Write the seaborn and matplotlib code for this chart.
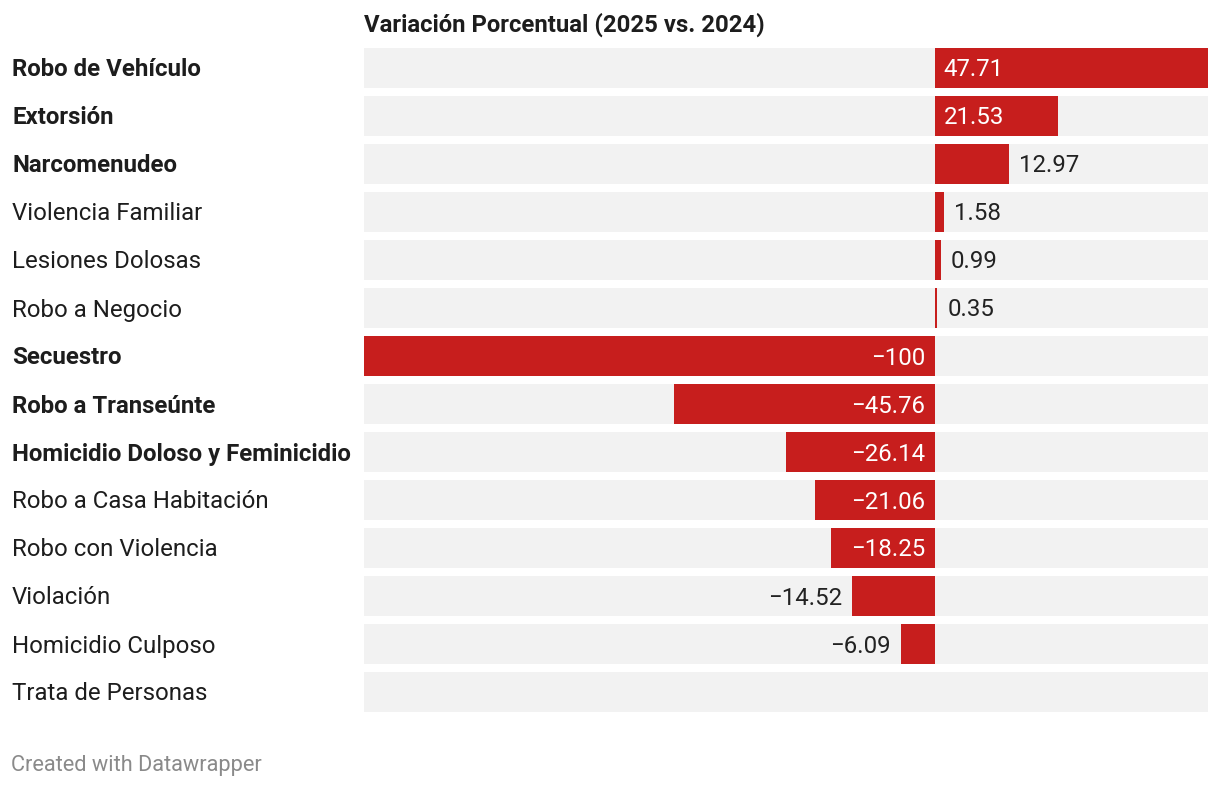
import numpy as np
import pandas as pd
import matplotlib
matplotlib.use("Agg")
import matplotlib.pyplot as plt
import seaborn as sns

# data
delitos = ['Robo de Vehículo', 'Extorsión', 'Narcomenudeo', 'Violencia Familiar',
           'Lesiones Dolosas', 'Robo a Negocio', 'Secuestro', 'Robo a Transeúnte',
           'Homicidio Doloso y Feminicidio', 'Robo a Casa Habitación',
           'Robo con Violencia', 'Violación', 'Homicidio Culposo', 'Trata de Personas']
variacion = [47.71, 21.53, 12.97, 1.58, 0.99, 0.35, -100, -45.76, -26.14,
             -21.06, -18.25, -14.52, -6.09, np.nan]
negritas = ['Robo de Vehículo', 'Extorsión', 'Narcomenudeo', 'Secuestro',
            'Robo a Transeúnte', 'Homicidio Doloso y Feminicidio']

df = pd.DataFrame({'delito': delitos, 'var': variacion})

sns.set_style('white')
plt.rcParams['font.family'] = ['Roboto', 'DejaVu Sans']

W, H = 1220, 788
fig = plt.figure(figsize=(W / 100, H / 100), dpi=100)
ax = fig.add_axes([364 / W, 1 - 712 / H, (1208 - 364) / W, (712 - 48) / H])

xmin, xmax = df['var'].min(), df['var'].max()
bh = 40 / 48

# grey background rows
ax.barh(np.arange(len(df)), xmax - xmin, left=xmin, height=bh, color='#f2f2f2',
        linewidth=0, zorder=0)
sns.barplot(data=df, x='var', y='delito', color='#c71e1d', orient='h', width=bh,
            saturation=1, linewidth=0, ax=ax, zorder=2)

ax.set_xlim(xmin, xmax)
ax.set_ylim(len(df) - 0.5 - (1 - bh) / 2, -0.5 + (1 - bh) / 2)
ax.set_xlabel('')
ax.set_ylabel('')
ax.set_xticks([])
ax.set_yticks([])
for s in ax.spines.values():
    s.set_visible(False)

pxu = (1208 - 364) / (xmax - xmin)  # pixels per unit
fs = 17.3
dy = -2  # nudge text down a bit
for i, (d, v) in enumerate(zip(delitos, variacion)):
    fig.text(12 / W, 1 - (48 + 22 + 48 * i) / H, d, fontsize=fs, va='center', ha='left',
             color='#1d1d1d', fontweight='bold' if d in negritas else 'normal')
    if np.isnan(v):
        continue
    txt = f'{v:g}'.replace('-', '\u2212')
    wpx = abs(v) * pxu
    inside = wpx > 90
    if v >= 0:
        if inside:
            ax.annotate(txt, (0, i), xytext=(8, dy), textcoords='offset pixels',
                        ha='left', va='center', color='white', fontsize=fs, zorder=3)
        else:
            ax.annotate(txt, (v, i), xytext=(10, dy), textcoords='offset pixels',
                        ha='left', va='center', color='#222222', fontsize=fs, zorder=3)
    else:
        if inside:
            ax.annotate(txt, (0, i), xytext=(-10, dy), textcoords='offset pixels',
                        ha='right', va='center', color='white', fontsize=fs, zorder=3)
        else:
            ax.annotate(txt, (v, i), xytext=(-10, dy), textcoords='offset pixels',
                        ha='right', va='center', color='#222222', fontsize=fs, zorder=3)

fig.text(364 / W, 1 - 25 / H, 'Variación Porcentual (2025 vs. 2024)', fontsize=17.2,
         fontweight='bold', va='center', ha='left', color='#1d1d1d')
fig.text(11 / W, 1 - 766 / H, 'Created with Datawrapper', fontsize=15.7,
         va='center', ha='left', color='#8a8a8a')

fig.savefig('out.png', dpi=100, facecolor='white')
